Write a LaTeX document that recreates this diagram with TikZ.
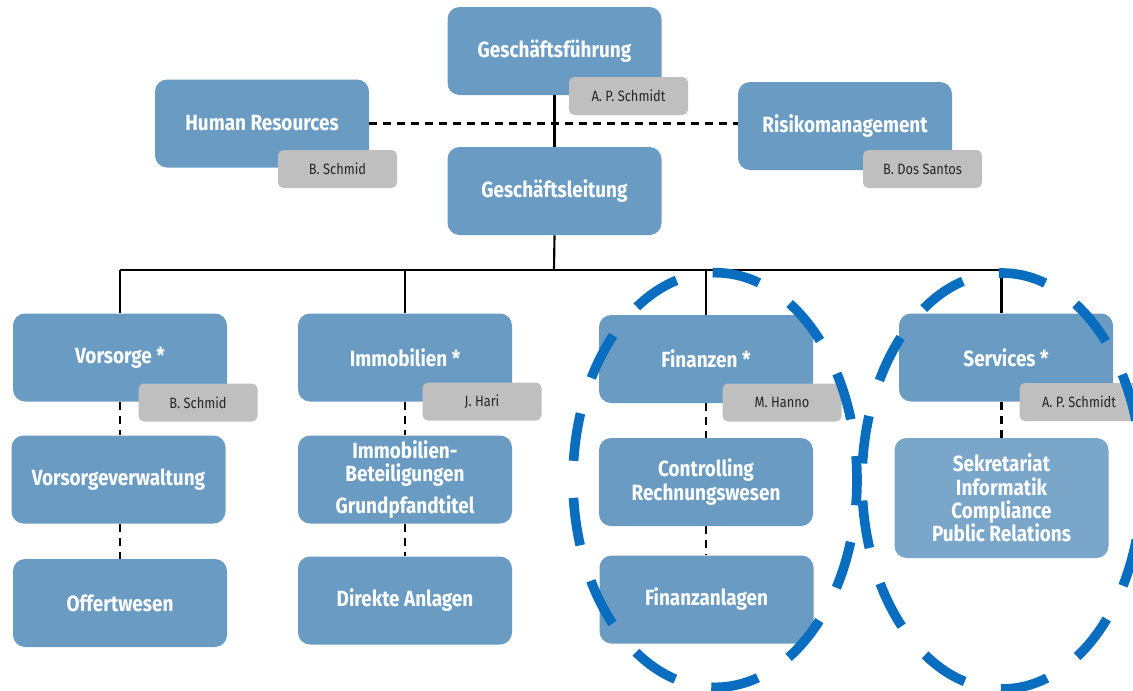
\documentclass[tikz,border=0pt]{standalone}
\usepackage{fontspec}
\setmainfont{Fira Sans}[FakeStretch=0.86]
\definecolor{boxblue}{RGB}{106,155,195}
\definecolor{subblue}{RGB}{122,166,202}
\definecolor{namegrey}{RGB}{191,191,191}
\definecolor{ellblue}{RGB}{10,110,192}
\tikzset{
  unit/.style={fill=boxblue, rounded corners=9pt, text=white, align=center,
    font=\bfseries\fontsize{16.5}{17.5}\selectfont, inner sep=0pt,
    minimum width=160.5pt, minimum height=66pt},
  namebox/.style={fill=namegrey, rounded corners=4pt, text=black!85,
    font=\fontsize{11.2}{13}\selectfont, inner sep=0pt,
    minimum width=89.25pt, minimum height=28.5pt},
  solidlink/.style={draw=black, line width=1.6pt},
  dashlink/.style={draw=black, line width=1.7pt, dash pattern=on 6pt off 4.5pt},
  ring/.style={draw=ellblue, line width=7.2pt, dash pattern=on 36pt off 27.8pt, dash phase=18pt}
}
\begin{document}
\begin{tikzpicture}[x=0.75pt,y=-0.75pt]
\clip (0,0) rectangle (1133,690);
\fill[white] (0,0) rectangle (1133,690);
% top level
\node[unit] (gf) at (554.5,51) {Geschäftsführung};
\node[unit] (hr) at (262,123.5) {Human Resources};
\node[unit] (rm) at (845,126) {Risikomanagement};
\node[unit] (gl) at (554.5,191) {Geschäftsleitung};
% columns
\node[unit] (vor) at (120,357.5) {Vorsorge *};
\node[unit] (vv) at (118.5,479.5) {Vorsorgeverwaltung};
\node[unit] (off) at (120,603) {Offertwesen};
\node[unit] (imm) at (405,357.5) {Immobilien *};
\node[unit] (ib) at (405,479.5) {Immobilien-\\Beteiligungen\\[6pt]Grundpfandtitel};
\node[unit] (da) at (405,600.5) {Direkte Anlagen};
\node[unit] (fin) at (706,359) {Finanzen *};
\node[unit] (ctr) at (706,482) {Controlling\\[1pt]Rechnungswesen};
\node[unit] (fa) at (706.5,599.5) {Finanzanlagen};
\node[unit] (ser) at (1006,357.5) {Services *};
\node[unit, fill=subblue, minimum height=90pt] (sub) at (1001.5,498) {Sekretariat\\Informatik\\Compliance\\Public Relations};
% bus coordinate
\coordinate (bus) at (554,270);
% connectors
\draw[solidlink] (gf.south) -- (gl.north);
\draw[dashlink] (hr.east) -- (hr.east -| rm.west);
\draw[solidlink] (gl.south) -- (bus);
\draw[solidlink] (vor.north |- bus) -- (sub.north |- bus);
\draw[solidlink] (vor.north |- bus) -- (vor.north);
\draw[solidlink] (imm.north |- bus) -- (imm.north);
\draw[solidlink] (fin.north |- bus) -- (fin.north);
\draw[solidlink] (sub.north |- bus) -- (sub.north |- ser.north);
\draw[dashlink] (vor.south) -- (vv.north -| vor.south);
\draw[dashlink] (vv.south -| vor.south) -- (off.north);
\draw[dashlink] (imm.south) -- (ib.north);
\draw[dashlink] (ib.south) -- (da.north);
\draw[dashlink] (fin.south) -- (ctr.north);
\draw[dashlink] (ctr.south) -- (fa.north -| ctr.south);
\draw[dashlink] (sub.north |- ser.south) -- (sub.north);
% name boxes
\node[namebox] (gfn) at (628.5,96) {A. P. Schmidt};
\node[namebox] (hrn) at (337.5,169) {B. Schmid};
\node[namebox] (rmn) at (922.5,169) {B. Dos Santos};
\node[namebox] (vorn) at (198,402.5) {B. Schmid};
\node[namebox] (immn) at (482,401.5) {J. Hari};
\node[namebox] (finn) at (782,402.5) {M. Hanno};
\node[namebox] (sern) at (1079,402) {A. P. Schmidt};
% highlight rings
\draw[ring] (715,480) ellipse [x radius=106.5pt, y radius=155.5pt];
\draw[ring] (1002,481) ellipse [x radius=105pt, y radius=156pt];
\end{tikzpicture}
\end{document}
